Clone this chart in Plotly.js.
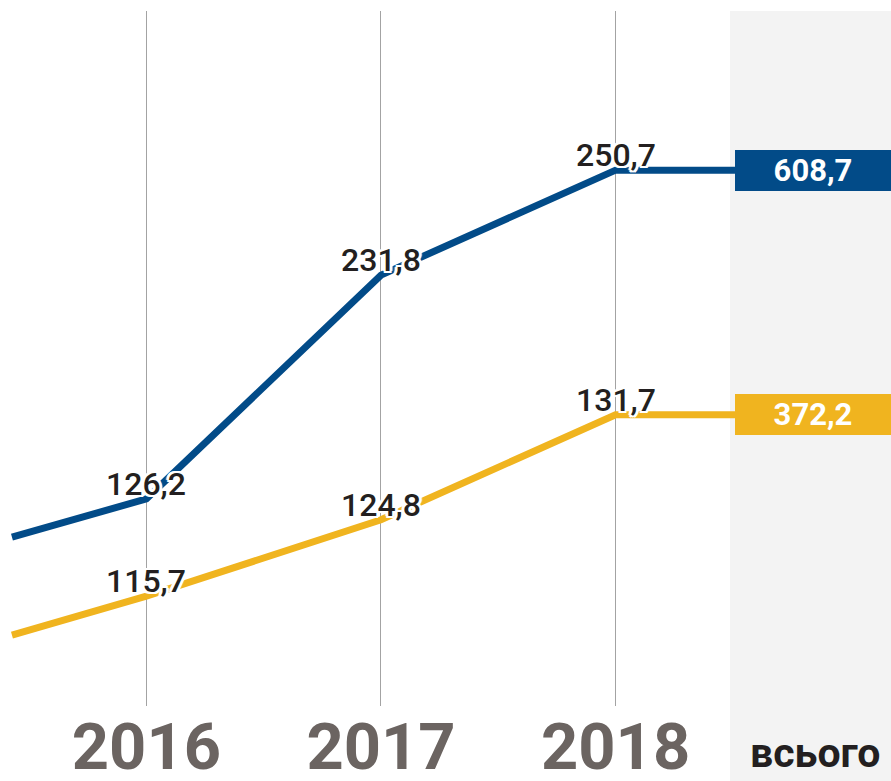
<!DOCTYPE html>
<html>
<head>
<meta charset="utf-8">
<script src="https://cdn.plot.ly/plotly-3.0.1.min.js"></script>
<style>html,body{margin:0;padding:0;background:#fff;}#chart{width:891px;height:781px;}</style>
</head>
<body>
<div id="chart"></div>
<script>
// ---- data ----
const years = ['2016', '2017', '2018'];
const yearX = [2016, 2017, 2018];
const blueValues = [126.2, 231.8, 250.7];
const yellowValues = [115.7, 124.8, 131.7];
const totals = [608.7, 372.2];
const totalLabel = 'всього';
// line path on the chart's hidden (decorative) vertical scale:
// lead-in point, 2016, 2017, 2018, run-out to the total box
const lineX = [2015.427, 2016, 2017, 2018, 2018.509];
const blueLevel = [24.3, 29.8, 62.0, 77.1, 77.1];
const yellowLevel = [10.2, 15.8, 26.8, 41.9, 41.9];

const BLUE = '#024b88';
const YELLOW = '#f0b41f';
const fmt = v => v.toFixed(1).replace('.', ',');

const traces = [
  {x: lineX, y: blueLevel, mode: 'lines', line: {color: BLUE, width: 7}, hoverinfo: 'skip'},
  {x: lineX, y: yellowLevel, mode: 'lines', line: {color: YELLOW, width: 7}, hoverinfo: 'skip'}
];

const halo = 'white 2px 0px 0px, white -2px 0px 0px, white 0px 2px 0px, white 0px -2px 0px, white 2px 2px 0px, white -2px -2px 0px, white 2px -2px 0px, white -2px 2px 0px, white 3px 0px 1px, white -3px 0px 1px';

const annotations = [];
function addLabels(values, levels) {
  values.forEach((v, i) => {
    annotations.push({
      x: yearX[i], y: levels[i + 1], xref: 'x', yref: 'y',
      text: fmt(v), showarrow: false, xanchor: 'center', yanchor: 'bottom',
      yshift: -5, borderpad: 0,
      font: {family: 'Roboto', size: 32, weight: 500, color: '#231f20', shadow: halo}
    });
  });
}
addLabels(blueValues, blueLevel);
addLabels(yellowValues, yellowLevel);

[[totals[0], blueLevel[4], BLUE], [totals[1], yellowLevel[4], YELLOW]].forEach(([t, lvl, c]) => {
  annotations.push({
    x: 1, xref: 'paper', xanchor: 'right', y: lvl, yref: 'y', yanchor: 'middle',
    text: '<b>' + fmt(t) + '</b>', showarrow: false, bgcolor: c,
    width: 156, height: 41, borderpad: 0, borderwidth: 0, align: 'center', valign: 'middle',
    font: {family: 'Roboto', size: 31, color: '#ffffff'}
  });
});

annotations.push({
  x: 0.915, xref: 'paper', y: -0.067, yref: 'paper', xanchor: 'center', yanchor: 'middle',
  text: '<b>' + totalLabel + '</b>', showarrow: false,
  font: {family: 'Roboto', size: 41, color: '#231f20'}
});

const layout = {
  width: 891, height: 781,
  margin: {l: 0, r: 0, t: 11, b: 75, pad: 0},
  paper_bgcolor: '#ffffff', plot_bgcolor: 'rgba(0,0,0,0)',
  showlegend: false,
  xaxis: {
    range: [2015.376, 2019.174], tickmode: 'array', tickvals: yearX, ticktext: years,
    showgrid: true, gridcolor: '#a3a3a3', gridwidth: 1, zeroline: false, showline: false,
    ticks: '', fixedrange: true, ticklabelstandoff: -3,
    tickfont: {family: 'Roboto', size: 65, weight: 700, color: '#6b6461'}
  },
  yaxis: {range: [0, 100], visible: false, showgrid: false, zeroline: false, fixedrange: true},
  shapes: [{
    type: 'rect', xref: 'paper', yref: 'paper', x0: 730 / 891, x1: 1, y0: -0.2, y1: 1,
    fillcolor: '#f3f3f3', line: {width: 0}, layer: 'below'
  }],
  annotations: annotations
};

Plotly.newPlot('chart', traces, layout, {staticPlot: true, displayModeBar: false});
</script>
</body>
</html>
